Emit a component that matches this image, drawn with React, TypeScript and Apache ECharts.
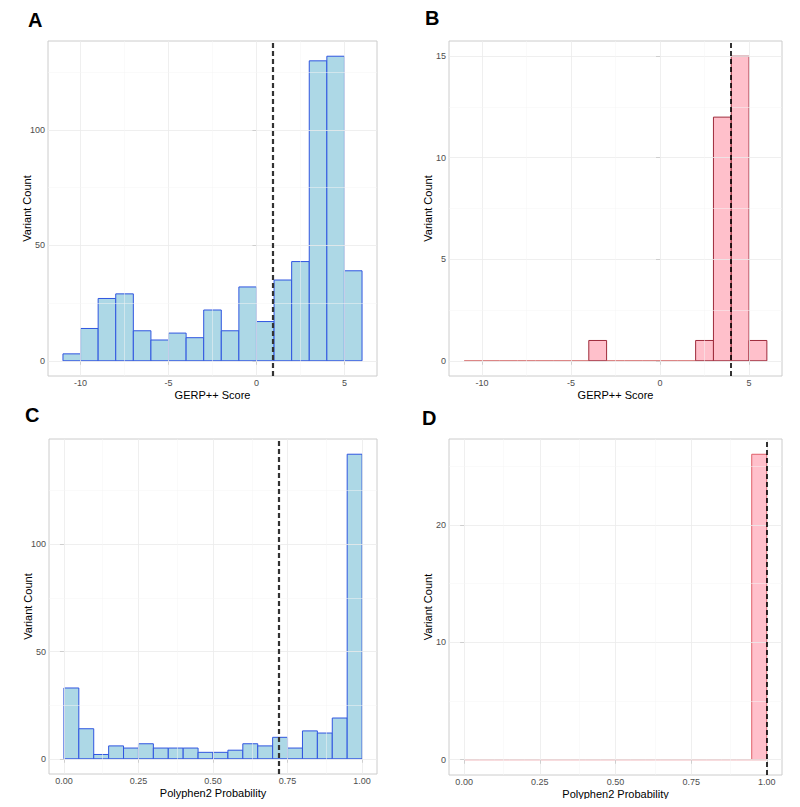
import React, { useEffect, useRef } from "react";
import * as echarts from "echarts";

// ---- Data ----
// GERP++ bins (width 1, from -11 to 6)
const gerpBinStarts = [-11, -10, -9, -8, -7, -6, -5, -4, -3, -2, -1, 0, 1, 2, 3, 4, 5];
const gerpCountsA = [3, 14, 27, 29, 13, 9, 12, 10, 22, 13, 32, 17, 35, 43, 130, 132, 39];
const gerpCountsB = [0, 0, 0, 0, 0, 0, 0, 1, 0, 0, 0, 0, 0, 1, 12, 15, 1];
const gerpBinWidth = 1;
const gerpThresholdA = 0.9;
const gerpThresholdB = 4.0;

// Polyphen2 bins (width 0.05, from 0 to 1)
const polyBinStarts = [0, 0.05, 0.1, 0.15, 0.2, 0.25, 0.3, 0.35, 0.4, 0.45, 0.5, 0.55, 0.6, 0.65, 0.7, 0.75, 0.8, 0.85, 0.9, 0.95];
const polyCountsC = [33, 14, 2, 6, 5, 7, 5, 5, 5, 3, 3, 4, 7, 6, 10, 5, 13, 12, 19, 142];
const polyCountsD = [0, 0, 0, 0, 0, 0, 0, 0, 0, 0, 0, 0, 0, 0, 0, 0, 0, 0, 0, 26];
const polyBinWidth = 0.05;
const polyThresholdC = 0.716;
const polyThresholdD = 1.0;

// Tick labels
const gerpXTicks = [-10, -5, 0, 5];
const polyXTicks = [0, 0.25, 0.5, 0.75, 1];
const yTicksA = [0, 50, 100];
const yTicksB = [0, 5, 10, 15];
const yTicksC = [0, 50, 100];
const yTicksD = [0, 10, 20];

const gerpXMinor = [-7.5, -2.5, 2.5];
const polyXMinor = [0.125, 0.375, 0.625, 0.875];
const yMinorA = [25, 75, 125];
const yMinorB = [2.5, 7.5, 12.5];
const yMinorC = [25, 75, 125];
const yMinorD = [5, 15, 25];

const panelLetters = ["A", "B", "C", "D"];
const gerpTitle = "GERP++ Score";
const polyTitle = "Polyphen2 Probability";
const yTitle = "Variant Count";

const FONT = "'Liberation Sans', Arial, sans-serif";

function expand(lo: number, hi: number) {
  const d = (hi - lo) * 0.05;
  return [lo - d, hi + d];
}

export default function App() {
  const ref = useRef<HTMLDivElement>(null);
  useEffect(() => {
    if (!ref.current) return;
    const chart = echarts.init(ref.current, undefined, { renderer: "svg" });

    const grids = [
      { left: 48, top: 41, width: 329, height: 335 },
      { left: 449, top: 41, width: 333, height: 335 },
      { left: 49, top: 439, width: 328, height: 335 },
      { left: 449, top: 439, width: 333, height: 336 },
    ];

    const panels = [
      { starts: gerpBinStarts, counts: gerpCountsA, w: gerpBinWidth, xt: gerpXTicks, xm: gerpXMinor, yt: yTicksA, ym: yMinorA, thr: gerpThresholdA, title: gerpTitle, fill: "#add8e6", stroke: "#2f55e0", zero: "#2f55e0", dash: "#333333", dw: 2.2, poly: false },
      { starts: gerpBinStarts, counts: gerpCountsB, w: gerpBinWidth, xt: gerpXTicks, xm: gerpXMinor, yt: yTicksB, ym: yMinorB, thr: gerpThresholdB, title: gerpTitle, fill: "#ffc0cb", stroke: "#9e2a3a", zero: "#d05a5a", dash: "#000000", dw: 1.6, poly: false },
      { starts: polyBinStarts, counts: polyCountsC, w: polyBinWidth, xt: polyXTicks, xm: polyXMinor, yt: yTicksC, ym: yMinorC, thr: polyThresholdC, title: polyTitle, fill: "#add8e6", stroke: "#2f55e0", zero: "#2f55e0", dash: "#333333", dw: 2.2, poly: true },
      { starts: polyBinStarts, counts: polyCountsD, w: polyBinWidth, xt: polyXTicks, xm: polyXMinor, yt: yTicksD, ym: yMinorD, thr: polyThresholdD, title: polyTitle, fill: "#ffc0cb", stroke: "#e0606a", zero: "#e0606a", dash: "#000000", dw: 1.6, poly: true },
    ];

    const xAxes: any[] = [];
    const yAxes: any[] = [];
    const series: any[] = [];

    panels.forEach((p, i) => {
      const xlo = p.starts[0];
      const xhi = p.starts[p.starts.length - 1] + p.w;
      const [xmin, xmax] = expand(xlo, xhi);
      const [ymin, ymax] = expand(0, Math.max(...p.counts));
      xAxes.push({
        type: "value",
        gridIndex: i,
        min: xmin,
        max: xmax,
        name: p.title,
        nameLocation: "middle",
        nameGap: 13,
        nameMoveOverlap: false,
        nameTextStyle: { color: "#000", fontSize: 11, fontFamily: FONT },
        axisLine: { show: false },
        axisTick: { show: true, length: 4, customValues: p.xt, lineStyle: { color: "#333", width: 0.8 } },
        axisLabel: {
          customValues: p.xt,
          color: "#4d4d4d",
          fontSize: 9,
          fontFamily: FONT,
          margin: 2,
          formatter: (v: number) => (p.poly ? v.toFixed(2) : String(v)),
        },
        splitLine: { show: false },
      });
      yAxes.push({
        type: "value",
        gridIndex: i,
        min: ymin,
        max: ymax,
        name: yTitle,
        nameLocation: "middle",
        nameGap: 16,
        nameMoveOverlap: false,
        nameTextStyle: { color: "#000", fontSize: 11, fontFamily: FONT },
        axisLine: { show: false },
        axisTick: { show: true, length: 4, customValues: p.yt, lineStyle: { color: "#333", width: 0.8 } },
        axisLabel: { customValues: p.yt, color: "#4d4d4d", fontSize: 9, fontFamily: FONT, margin: 3 },
        splitLine: { show: false },
      });

      // grid lines via markLine
      const gridData: any[] = [];
      p.xt.forEach((v) => gridData.push({ xAxis: v, lineStyle: { color: "#ebebeb", width: 0.8, type: "solid" } }));
      p.yt.forEach((v) => gridData.push({ yAxis: v, lineStyle: { color: "#ebebeb", width: 0.8, type: "solid" } }));
      p.xm.forEach((v) => gridData.push({ xAxis: v, lineStyle: { color: "#f5f5f5", width: 0.5, type: "solid" } }));
      p.ym.filter((v) => v < ymax).forEach((v) => gridData.push({ yAxis: v, lineStyle: { color: "#f5f5f5", width: 0.5, type: "solid" } }));
      series.push({
        type: "line",
        xAxisIndex: i,
        yAxisIndex: i,
        data: [],
        z: 1,
        silent: true,
        markLine: { silent: true, symbol: "none", label: { show: false }, data: gridData, animation: false },
      });

      const histData = p.starts.map((s, k) => [s, s + p.w, p.counts[k]]);
      series.push({
        type: "custom",
        xAxisIndex: i,
        yAxisIndex: i,
        z: 2,
        data: histData,
        encode: { x: [0, 1], y: 2 },
        renderItem: (params: any, api: any) => {
          const x0 = api.value(0);
          const x1 = api.value(1);
          const c = api.value(2);
          const p0 = api.coord([x0, 0]);
          const p1 = api.coord([x1, c]);
          if (c === 0) {
            return {
              type: "line",
              shape: { x1: p0[0], y1: p0[1], x2: p1[0], y2: p0[1] },
              style: { stroke: p.zero, lineWidth: 1 },
            };
          }
          return {
            type: "rect",
            shape: { x: p0[0], y: p1[1], width: p1[0] - p0[0], height: p0[1] - p1[1] },
            style: { fill: p.fill, stroke: p.stroke, lineWidth: 1 },
          };
        },
      });

      series.push({
        type: "line",
        xAxisIndex: i,
        yAxisIndex: i,
        data: [],
        z: 5,
        silent: true,
        markLine: {
          silent: true,
          symbol: "none",
          label: { show: false },
          lineStyle: { color: p.dash, width: p.dw, type: [5, 3] },
          data: [{ xAxis: p.thr }],
        },
      });
    });

    const letterPos = [
      { left: 28, top: 10 },
      { left: 425, top: 8 },
      { left: 25, top: 405 },
      { left: 422, top: 408 },
    ];

    chart.setOption({
      animation: false,
      backgroundColor: "#ffffff",
      grid: grids.map((g) => ({ ...g, show: true, borderColor: "#cccccc", borderWidth: 1, backgroundColor: "#ffffff", containLabel: false })),
      xAxis: xAxes,
      yAxis: yAxes,
      series,
      graphic: panelLetters.map((t, i) => ({
        type: "text",
        left: letterPos[i].left,
        top: letterPos[i].top,
        style: { text: t, fontSize: 20, fontWeight: "bold", fontFamily: FONT, fill: "#000" },
      })),
    });

    return () => chart.dispose();
  }, []);

  return <div ref={ref} style={{ width: 800, height: 807, margin: -8 }} />;
}
